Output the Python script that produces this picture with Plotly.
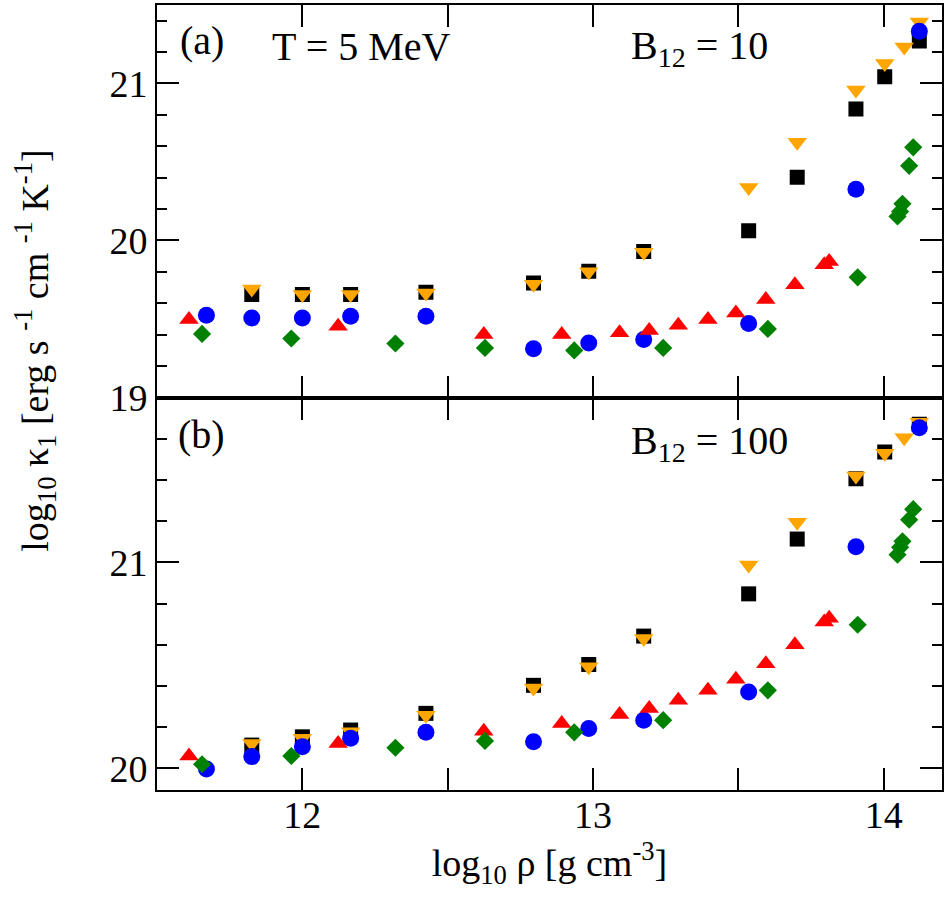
import plotly.graph_objects as go
from plotly.subplots import make_subplots

# panel (a): B12 = 10
a_sq_x = [11.826, 12.0, 12.166, 12.425, 12.795, 12.985, 13.174, 13.535, 13.702, 13.904, 14.003, 14.122]
a_sq_y = [19.655, 19.655, 19.655, 19.67, 19.729, 19.803, 19.93, 20.062, 20.402, 20.837, 21.043, 21.27]
a_dn_x = [11.826, 12.0, 12.166, 12.425, 12.795, 12.985, 13.174, 13.535, 13.702, 13.904, 14.003, 14.07, 14.122]
a_dn_y = [19.69, 19.655, 19.655, 19.665, 19.72, 19.80, 19.925, 20.337, 20.625, 20.958, 21.127, 21.233, 21.392]
a_ci_x = [11.67, 11.826, 12.0, 12.166, 12.425, 12.795, 12.985, 13.174, 13.535, 13.904, 14.122]
a_ci_y = [19.523, 19.506, 19.506, 19.517, 19.517, 19.31, 19.347, 19.369, 19.47, 20.326, 21.333]
a_up_x = [11.61, 12.123, 12.624, 12.892, 13.091, 13.193, 13.293, 13.395, 13.491, 13.594, 13.694, 13.795, 13.812]
a_up_y = [19.496, 19.453, 19.40, 19.40, 19.411, 19.426, 19.46, 19.496, 19.538, 19.623, 19.718, 19.845, 19.866]
a_di_x = [11.655, 11.962, 12.32, 12.628, 12.935, 13.241, 13.601, 13.91, 14.047, 14.056, 14.064, 14.087, 14.101]
a_di_y = [19.404, 19.375, 19.343, 19.315, 19.299, 19.315, 19.436, 19.765, 20.153, 20.184, 20.233, 20.475, 20.593]

# panel (b): B12 = 100
b_sq_x = a_sq_x
b_sq_y = [20.113, 20.153, 20.186, 20.267, 20.403, 20.504, 20.642, 20.847, 21.113, 21.406, 21.536, 21.67]
b_dn_x = a_dn_x
b_dn_y = [20.121, 20.146, 20.178, 20.258, 20.39, 20.493, 20.63, 20.987, 21.194, 21.419, 21.529, 21.605, 21.68]
b_ci_x = a_ci_x
b_ci_y = [19.997, 20.057, 20.105, 20.146, 20.175, 20.129, 20.194, 20.234, 20.371, 21.076, 21.653]
b_up_x = a_up_x
b_up_y = [20.06, 20.121, 20.18, 20.218, 20.262, 20.291, 20.331, 20.379, 20.433, 20.508, 20.60, 20.71, 20.729]
b_di_x = a_di_x
b_di_y = [20.02, 20.06, 20.10, 20.133, 20.175, 20.234, 20.379, 20.697, 21.037, 21.073, 21.102, 21.207, 21.258]

x_ticks = [12, 12.5, 13, 13.5, 14]
x_labels = ["12", "", "13", "", "14"]

FONT = "Liberation Serif"

styles = [
    ("square", "black", 15),
    ("triangle-down", "#FFA500", 17),
    ("circle", "#0000FF", 17),
    ("triangle-up", "#FF0000", 17),
    ("diamond", "#008000", 14),
]

fig = make_subplots(rows=2, cols=1, shared_xaxes=True, vertical_spacing=0)

panels = [
    (1, [(a_sq_x, a_sq_y), (a_dn_x, a_dn_y), (a_ci_x, a_ci_y), (a_up_x, a_up_y), (a_di_x, a_di_y)]),
    (2, [(b_sq_x, b_sq_y), (b_dn_x, b_dn_y), (b_ci_x, b_ci_y), (b_up_x, b_up_y), (b_di_x, b_di_y)]),
]
for row, series in panels:
    for (xs, ys), (sym, col, sz) in zip(series, styles):
        fig.add_trace(go.Scatter(
            x=xs, y=ys, mode="markers", showlegend=False,
            marker=dict(symbol=sym, color=col, size=sz, line=dict(width=0)),
        ), row=row, col=1)

axis_common = dict(
    showline=True, linecolor="black", linewidth=2, mirror="allticks",
    ticks="inside", tickwidth=2, tickcolor="black", showgrid=False, zeroline=False,
    tickfont=dict(family=FONT, size=38, color="black"),
)

for row in (1, 2):
    fig.update_xaxes(
        range=[11.5, 14.2], tickmode="array", tickvals=x_ticks, ticktext=x_labels,
        ticklen=22, showticklabels=(row == 2), row=row, col=1, **axis_common,
    )
fig.update_xaxes(ticklabelstandoff=-10, row=2, col=1)

minor = dict(tick0=0, dtick=0.2, ticklen=10, ticks="inside", tickwidth=2, tickcolor="black")
fig.update_yaxes(range=[18.999, 21.5], tickmode="linear", tick0=0, dtick=1, ticklen=22,
                 minor=minor, row=1, col=1, **axis_common)
fig.update_yaxes(range=[19.895, 21.8], tickmode="linear", tick0=0, dtick=1, ticklen=22,
                 minor=minor, row=2, col=1, **axis_common)

fig.update_xaxes(
    title=dict(text="log<sub>10</sub> ρ [g cm<sup>-3</sup>]", font=dict(family=FONT, size=38, color="black"), standoff=2),
    row=2, col=1,
)

txt = dict(family=FONT, size=40, color="black")
notes = [
    ("x domain", "y domain", 0.057, 0.91, "(a)", "center"),
    ("x domain", "y domain", 0.261, 0.893, "T = 5 MeV", "center"),
    ("x domain", "y domain", 0.601, 0.89, "B<sub>12</sub> = 10", "left"),
    ("x2 domain", "y2 domain", 0.057, 0.906, "(b)", "center"),
    ("x2 domain", "y2 domain", 0.601, 0.885, "B<sub>12</sub> = 100", "left"),
]
for xr, yr, xp, yp, t, anc in notes:
    fig.add_annotation(xref=xr, yref=yr, x=xp, y=yp, text=t, showarrow=False,
                       xanchor=anc, yanchor="middle", font=txt)

fig.add_annotation(
    xref="paper", yref="paper", x=-0.155, y=0.56, textangle=-90, showarrow=False,
    text="log<sub>10</sub> κ<sub>1</sub> [erg s <sup>-1</sup> cm <sup>-1</sup> K<sup>-1</sup>]",
    font=dict(family=FONT, size=38, color="black"), xanchor="center", yanchor="middle",
)

fig.update_layout(
    width=947, height=905,
    margin=dict(l=157, r=4, t=3, b=115),
    plot_bgcolor="white", paper_bgcolor="white",
)

fig.write_html("out.html", config={"displayModeBar": False},
               post_script="document.body.style.margin='0';")
